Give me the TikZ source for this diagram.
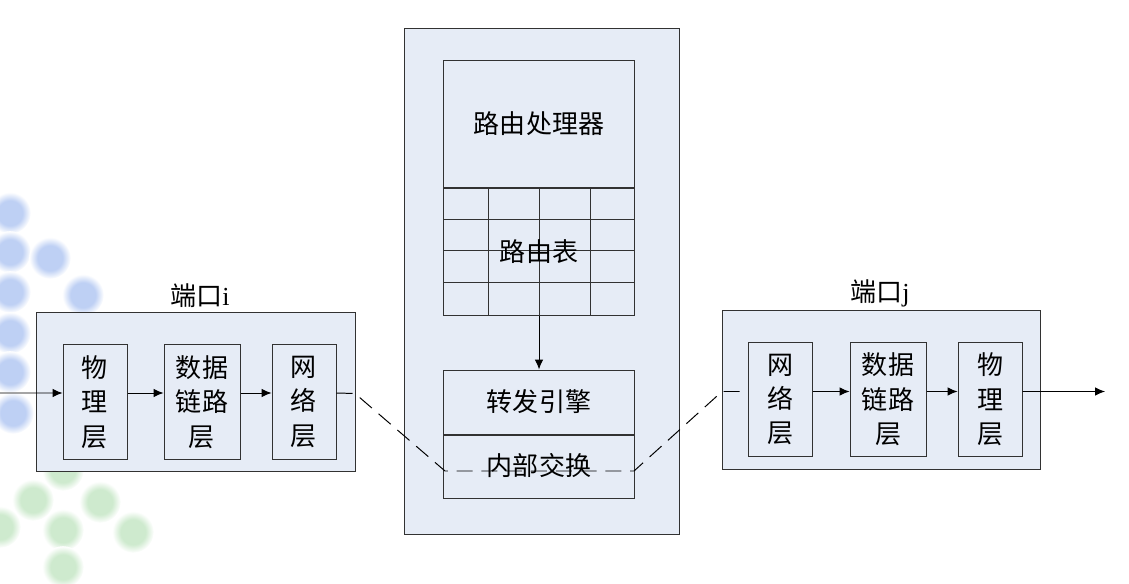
\documentclass[tikz,border=0pt]{standalone}
\usepackage{fontspec}
\setmainfont{Liberation Serif}
\newfontfamily\cjk{Noto Sans CJK SC}
\usetikzlibrary{arrows.meta, calc, positioning}
\definecolor{boxblue}{RGB}{230,236,246}
\definecolor{edgegray}{RGB}{50,50,50}
\definecolor{dotblue}{RGB}{190,208,244}
\definecolor{dotgreen}{RGB}{206,234,206}
\pgfdeclareradialshading{softblue}{\pgfpoint{0bp}{0bp}}{color(0bp)=(dotblue); color(15bp)=(dotblue); color(25bp)=(white); color(50bp)=(white)}
\pgfdeclareradialshading{softgreen}{\pgfpoint{0bp}{0bp}}{color(0bp)=(dotgreen); color(15bp)=(dotgreen); color(25bp)=(white); color(50bp)=(white)}

\begin{document}
\begin{tikzpicture}[
    x=0.025cm, y=-0.025cm,
    >={Latex[length=7pt,width=6pt]},
    every node/.style={font=\cjk\fontsize{18.5}{24.5}\selectfont},
    portbox/.style={draw=edgegray, line width=0.7pt, fill=boxblue, minimum width=7.95cm, minimum height=3.95cm},
    layer/.style={draw=edgegray, line width=0.7pt, fill=boxblue, minimum width=1.6cm, minimum height=2.85cm, align=center, inner sep=0pt},
    widelayer/.style={layer, minimum width=1.9cm},
    part/.style={draw=edgegray, line width=0.7pt, fill=boxblue, minimum width=4.75cm, align=center, inner sep=0pt},
    dashline/.style={draw=black, line width=0.7pt, dash pattern=on 0.4cm off 0.22cm},
    link/.style={->, line width=0.7pt}
]
\useasboundingbox (0,0) rectangle (1129,584);

% background dots
\foreach \dx/\dy in {10/213, 10/252, 50/258, 10/292, 83/295, 10/333, 10/372, 13/413}
    \shade[shading=softblue] (\dx,\dy) circle[radius=0.52cm];
\foreach \dx/\dy in {63/470, 33/500, 100/502, 0/527, 63/530, 133/532, 63/567}
    \shade[shading=softgreen] (\dx,\dy) circle[radius=0.52cm];

% port i
\node[portbox] (Lport) at (196,392) {};
\node (Llabel) at (200,296) {端口{\rmfamily i}};
\node[layer] (Lphys) at (95,402) {物\\理\\层};
\node[widelayer] (Ldl) at (202,402) {数据\\链路\\层};
\node[layer] (Lnet) at (304,402) {网\\络\\层};

% router core
\node[draw=edgegray, line width=0.7pt, fill=boxblue, minimum width=6.85cm, minimum height=12.625cm] (core) at (542,281.5) {};
\node[part, minimum height=3.15cm] (proc) at (539,124) {路由处理器};
\node[part, minimum height=3.175cm, below=0pt of proc] (rtable) {};
\foreach \gy in {219,250,282}
    \draw[edgegray, line width=0.7pt] (rtable.west |- 0,\gy) -- (rtable.east |- 0,\gy);
\foreach \gx in {488,539,590}
    \draw[edgegray, line width=0.7pt] (\gx,0 |- rtable.north) -- (\gx,0 |- rtable.south);
\node (rtlabel) at (rtable.center) {路由表};
\node[part, minimum height=1.6cm] (fwd) at (539,402) {转发引擎};
\node[part, minimum height=1.575cm, below=0pt of fwd] (swap) {};
\node (swlabel) at ($(swap.center)+(0,-1)$) {内部交换};

% port j
\node[portbox] (Rport) at (881.5,390) {};
\node (Rlabel) at (880,293) {端口{\rmfamily j}};
\node[layer] (Rnet) at (780,399.5) {网\\络\\层};
\node[widelayer] (Rdl) at (888,399.5) {数据\\链路\\层};
\node[layer] (Rphys) at (990,399.5) {物\\理\\层};

\coordinate (inbeg) at (0,393);
\coordinate (outend) at (1105,391.5);
\coordinate (ldash) at (355,393.5);
\coordinate (lbend) at (445,471);
\coordinate (rbend) at (634,471);
\coordinate (rdash) at (722,391.5);

\draw[link] (inbeg) -- ([yshift=0.225cm]Lphys.west);
\draw[link] ([yshift=0.225cm]Lphys.east) -- ([yshift=0.225cm]Ldl.west);
\draw[link] ([yshift=0.225cm]Ldl.east) -- ([yshift=0.225cm]Lnet.west);
\draw[dashline] ([yshift=0.225cm]Lnet.east) -- (ldash) -- (lbend) -- (rbend) -- (rdash) -- ([yshift=0.2cm]Rnet.west);
\draw[link] (rtable.south) -- (fwd.north);
\draw[link] ([yshift=0.2cm]Rnet.east) -- ([yshift=0.2cm]Rdl.west);
\draw[link] ([yshift=0.2cm]Rdl.east) -- ([yshift=0.2cm]Rphys.west);
\draw[link] ([yshift=0.2cm]Rphys.east) -- (outend);
\end{tikzpicture}
\end{document}
